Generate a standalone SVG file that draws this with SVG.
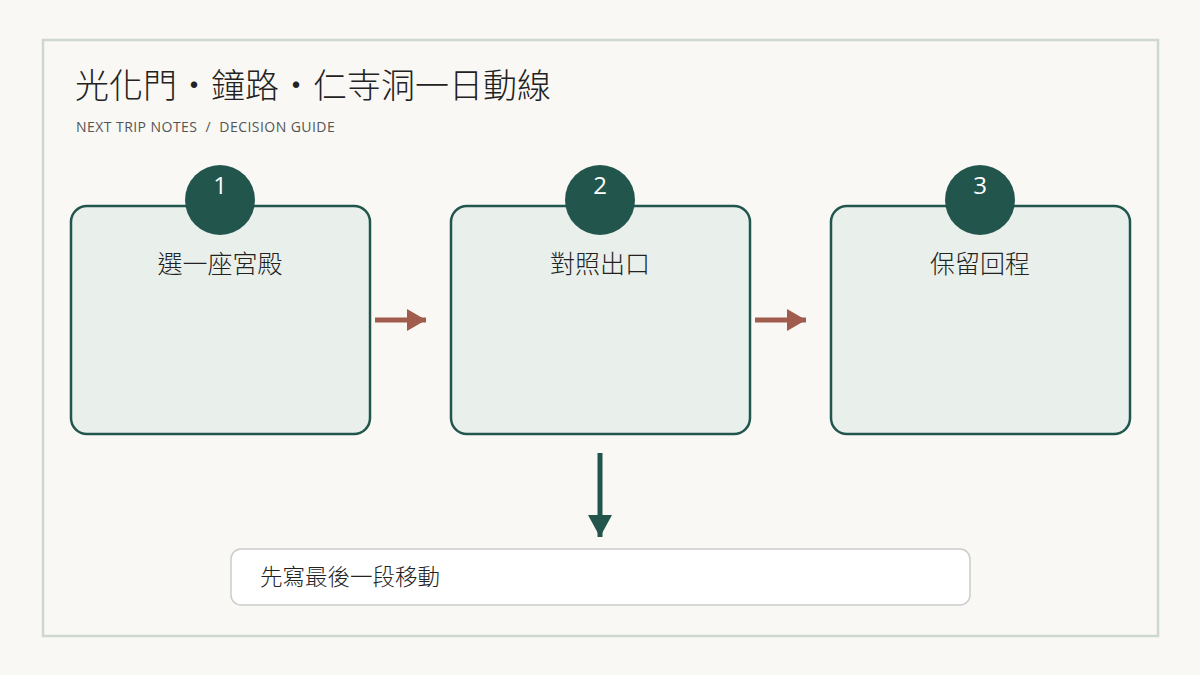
<svg xmlns="http://www.w3.org/2000/svg" width="1200" height="675" viewBox="0 0 1200 675">
<defs>
<style>
.cjk{font-family:"Noto Sans CJK TC","Noto Sans CJK SC",sans-serif;font-weight:300}
.box{fill:#e9f0ec;stroke:#22564d;stroke-width:2.5}
.badge{fill:#22564d}
.num{font-family:"Open Sans","Noto Sans",sans-serif;font-size:24px;fill:#ffffff;text-anchor:middle}
.lbl{font-size:25px;fill:#222;text-anchor:middle}
.harr{stroke:#a05d4e;stroke-width:5}
</style>
<marker id="ah" viewBox="0 0 10 10" refX="10" refY="5" markerWidth="19" markerHeight="22" markerUnits="userSpaceOnUse" orient="auto" preserveAspectRatio="none"><path d="M0,0L10,5L0,10z" fill="#a05d4e"/></marker>
<marker id="av" viewBox="0 0 10 10" refX="10" refY="5" markerWidth="22" markerHeight="24" markerUnits="userSpaceOnUse" orient="auto" preserveAspectRatio="none"><path d="M0,0L10,5L0,10z" fill="#22564d"/></marker>
</defs>
<rect width="1200" height="675" fill="#f9f8f4"/>
<rect x="43" y="40" width="1115" height="596" fill="none" stroke="#cfd8d0" stroke-width="2.5"/>
<text x="75" y="98" class="cjk" font-size="34" fill="#222">光化門・鐘路・仁寺洞一日動線</text>
<text x="76" y="132" font-family="Open Sans,Noto Sans,sans-serif" font-size="14" letter-spacing="0.45" fill="#555" xml:space="preserve">NEXT TRIP NOTES  /  DECISION GUIDE</text>
<g id="connectors">
<line x1="375" y1="320" x2="426" y2="320" class="harr" marker-end="url(#ah)"/>
<line x1="755" y1="320" x2="806" y2="320" class="harr" marker-end="url(#ah)"/>
<line x1="600" y1="453" x2="600" y2="537" stroke="#22564d" stroke-width="5" marker-end="url(#av)"/>
</g>
<g id="node1"><rect x="71" y="206" width="299" height="228" rx="16" class="box"/><circle cx="220" cy="200" r="35" class="badge"/><text x="220" y="194" class="num">1</text><text x="220" y="273" class="cjk lbl">選一座宮殿</text></g>
<g id="node2"><rect x="451" y="206" width="299" height="228" rx="16" class="box"/><circle cx="600" cy="200" r="35" class="badge"/><text x="600" y="194" class="num">2</text><text x="600" y="273" class="cjk lbl">對照出口</text></g>
<g id="node3"><rect x="831" y="206" width="299" height="228" rx="16" class="box"/><circle cx="980" cy="200" r="35" class="badge"/><text x="980" y="194" class="num">3</text><text x="980" y="273" class="cjk lbl">保留回程</text></g>
<g id="note"><rect x="231" y="549" width="739" height="56" rx="10" fill="#fff" stroke="#cccccc" stroke-width="1.5"/><text x="260" y="585" class="cjk" font-size="22.5" fill="#222">先寫最後一段移動</text></g>
</svg>
